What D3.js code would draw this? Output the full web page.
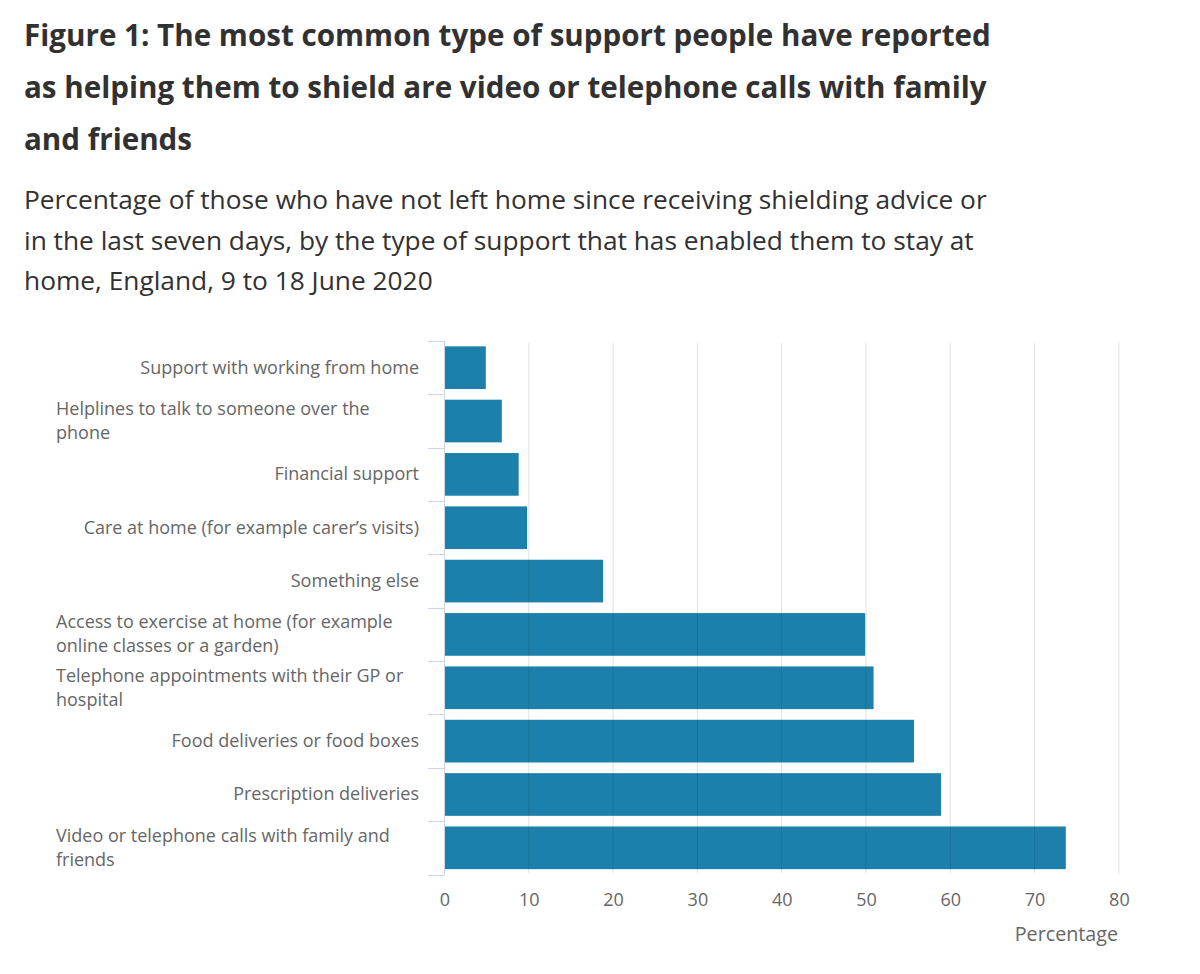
<!DOCTYPE html>
<html>
<head>
<meta charset="utf-8">
<script src="https://cdn.jsdelivr.net/npm/d3@7"></script>
<style>
  body { margin: 0; background: #fff; font-family: "Open Sans", sans-serif; }
  svg { display: block; }
</style>
</head>
<body>
<svg id="chart" width="1200" height="974"></svg>
<script>
const titleLines = [
    "Figure 1: The most common type of support people have reported",
    "as helping them to shield are video or telephone calls with family",
    "and friends"
];
const subtitleLines = [
    "Percentage of those who have not left home since receiving shielding advice or",
    "in the last seven days, by the type of support that has enabled them to stay at",
    "home, England, 9 to 18 June 2020"
];

// categories (each entry is the wrapped lines of the label)
const categories = [
    ["Support with working from home"],
    ["Helplines to talk to someone over the", "phone"],
    ["Financial support"],
    ["Care at home (for example carer\u2019s visits)"],
    ["Something else"],
    ["Access to exercise at home (for example", "online classes or a garden)"],
    ["Telephone appointments with their GP or", "hospital"],
    ["Food deliveries or food boxes"],
    ["Prescription deliveries"],
    ["Video or telephone calls with family and", "friends"]
];
const values = [4.9, 6.8, 8.8, 9.8, 18.8, 49.9, 50.9, 55.7, 58.9, 73.7];
const xTicks = [0, 10, 20, 30, 40, 50, 60, 70, 80];
const xTitle = "Percentage";

const svg = d3.select("#chart");

// title + subtitle
svg.append("g").selectAll("text")
    .data(titleLines)
    .enter().append("text")
    .attr("x", 24)
    .attr("y", (d, i) => 46 + i * 52)
    .attr("font-size", "29.6px")
    .attr("font-weight", "bold")
    .attr("fill", "#323132")
    .text(d => d);

svg.append("g").selectAll("text")
    .data(subtitleLines)
    .enter().append("text")
    .attr("x", 24)
    .attr("y", (d, i) => 209 + i * 40.5)
    .attr("font-size", "26.3px")
    .attr("fill", "#323132")
    .text(d => d);

const keys = categories.map((d, i) => i);

const x = d3.scaleLinear().domain([0, 80]).range([444.5, 1118.9]);
const y = d3.scaleBand().domain(keys).range([341, 874.5]).paddingInner(0.2).paddingOuter(0.1);

// bars
svg.append("g").selectAll("rect")
    .data(values)
    .enter().append("rect")
    .attr("x", x(0))
    .attr("y", (d, i) => y(i))
    .attr("width", d => x(d) - x(0))
    .attr("height", y.bandwidth())
    .attr("fill", "#1d80ab");

// gridlines (drawn over bars, faint)
svg.append("g").selectAll("line")
    .data(xTicks.slice(1))
    .enter().append("line")
    .attr("x1", d => x(d)).attr("x2", d => x(d))
    .attr("y1", 343).attr("y2", 873)
    .attr("stroke", "rgba(0,0,0,0.12)")
    .attr("stroke-width", 1);

// x axis tick labels
const xAxis = d3.axisBottom(x).tickValues(xTicks).tickSize(0).tickPadding(0);
const xg = svg.append("g").attr("transform", "translate(0,906)").call(xAxis);
xg.select(".domain").remove();
xg.selectAll("text")
    .attr("font-family", "Open Sans")
    .attr("font-size", "18px")
    .attr("fill", "#666")
    .attr("dy", 0);

svg.append("text")
    .attr("x", 1118)
    .attr("y", 941)
    .attr("text-anchor", "end")
    .attr("font-size", "19.7px")
    .attr("fill", "#666")
    .text(xTitle);

// y axis line + boundary ticks
const step = y.step();
const bounds = d3.range(categories.length + 1).map(i => 341 + i * step);
const yg = svg.append("g");
yg.append("line")
    .attr("x1", 444.5).attr("x2", 444.5)
    .attr("y1", 341).attr("y2", 875)
    .attr("stroke", "#ccd6eb");
yg.selectAll("line.tk")
    .data(bounds)
    .enter().append("line")
    .attr("class", "tk")
    .attr("x1", 428).attr("x2", 444)
    .attr("y1", d => Math.round(d) + 0.5).attr("y2", d => Math.round(d) + 0.5)
    .attr("stroke", "#ccd6eb");

// category labels
const lineH = 24;
const labels = svg.append("g").selectAll("text")
    .data(categories)
    .enter().append("text")
    .attr("font-size", "18px")
    .attr("fill", "#666")
    .attr("text-anchor", d => d.length > 1 ? "start" : "end")
    .attr("x", d => d.length > 1 ? 56 : 419)
    .attr("y", (d, i) => y(i) + y.bandwidth() / 2 - (d.length - 1) * lineH / 2 + 6);

labels.selectAll("tspan")
    .data(d => d)
    .enter().append("tspan")
    .attr("x", function () { return this.parentNode.getAttribute("x"); })
    .attr("dy", (d, i) => i === 0 ? 0 : lineH)
    .text(d => d);
</script>
</body>
</html>
